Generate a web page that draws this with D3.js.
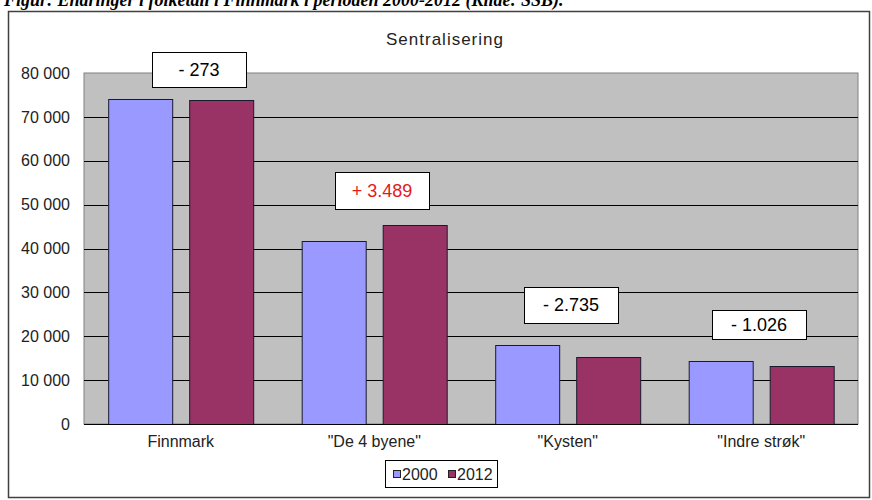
<!DOCTYPE html>
<html>
<head>
<meta charset="utf-8">
<script src="https://cdn.jsdelivr.net/npm/d3@7"></script>
<style>
  body { margin: 0; background: #fff; }
  text { font-family: "Liberation Sans", Arial, sans-serif; }
</style>
</head>
<body>
<svg id="chart" width="872" height="500"></svg>
<script>

// Data
const categories = [ "Finnmark", "\"De 4 byene\"", "\"Kysten\"", "\"Indre strøk\"" ];
const years = [ "2000", "2012" ];
const pop2000 = [ 74061, 41780, 17900, 14330 ];
const pop2012 = [ 73788, 45269, 15165, 13304 ];
const changeLabels = [ "- 273", "+ 3.489", "- 2.735", "- 1.026" ];
const yTicks = [ 0, 10000, 20000, 30000, 40000, 50000, 60000, 70000, 80000 ];

const width = 872,
      height = 500;

const plot = { left: 84, right: 858, top: 73, bottom: 424 };

const colors = { "2000" : "#9999ff", "2012" : "#993366" };

const svg = d3.select( "#chart" );

const nb = d3.formatLocale( { decimal: ",", thousands: " ", grouping: [ 3 ], currency: [ "", "" ] } );

const rows = categories.map( ( c, i ) => ( {
  cat : c,
  values : [ { year : "2000", value : pop2000[ i ] }, { year : "2012", value : pop2012[ i ] } ],
  note : changeLabels[ i ]
} ) );

const x0 = d3.scaleBand()
  .domain( categories )
  .range( [ plot.left, plot.right ] )
  .paddingInner( 0.25 )
  .paddingOuter( 0.125 );

const x1 = d3.scaleBand()
  .domain( years )
  .range( [ 0, x0.bandwidth() ] )
  .paddingInner( 0.21 );

const y = d3.scaleLinear()
  .domain( [ 0, 80000 ] )
  .range( [ plot.bottom, plot.top ] );

// Caption above the chart (cut by the top of the picture, as in the original)
svg.append( "text" )
  .attr( "x", 4 )
  .attr( "y", 6 )
  .style( "font-family", "'Liberation Serif', 'Times New Roman', serif" )
  .style( "font-style", "italic" )
  .style( "font-weight", "bold" )
  .style( "font-size", "18px" )
  .attr( "fill", "#000" )
  .text( "Figur: Endringer i folketall i Finnmark i perioden 2000-2012 (Kilde: SSB)." );

// Chart frame
svg.append( "rect" )
  .attr( "x", 8.5 )
  .attr( "y", 11.5 )
  .attr( "width", 861 )
  .attr( "height", 486 )
  .attr( "fill", "#fff" )
  .attr( "stroke", "#404040" )
  .attr( "stroke-width", 1.5 );

svg.append( "text" )
  .attr( "x", 445 )
  .attr( "y", 45 )
  .attr( "text-anchor", "middle" )
  .style( "font-size", "17px" )
  .style( "letter-spacing", "1px" )
  .attr( "fill", "#222" )
  .text( "Sentralisering" );

// Plot area
svg.append( "rect" )
  .attr( "x", plot.left )
  .attr( "y", plot.top )
  .attr( "width", plot.right - plot.left )
  .attr( "height", plot.bottom - plot.top )
  .attr( "fill", "#c0c0c0" )
  .attr( "stroke", "#808080" )
  .attr( "stroke-width", 1 );

svg.append( "g" )
  .selectAll( "line" )
  .data( yTicks.filter( t => t > 0 && t < 80000 ) )
  .enter().append( "line" )
    .attr( "x1", plot.left )
    .attr( "x2", plot.right )
    .attr( "y1", d => Math.round( y( d ) ) + 0.5 )
    .attr( "y2", d => Math.round( y( d ) ) + 0.5 )
    .attr( "stroke", "#000" )
    .attr( "stroke-width", 1 );

// Y axis labels
const yAxis = svg.append( "g" )
  .attr( "transform", "translate(" + plot.left + ",0)" )
  .call( d3.axisLeft( y ).tickValues( yTicks ).tickSize( 0 ).tickPadding( 14 ).tickFormat( nb.format( "," ) ) );

yAxis.select( ".domain" ).remove();
yAxis.selectAll( "text" )
  .style( "font-family", "'Liberation Sans', Arial, sans-serif" )
  .style( "font-size", "16px" )
  .attr( "fill", "#222" );

// Bars
const groups = svg.append( "g" )
  .selectAll( "g" )
  .data( rows )
  .enter().append( "g" )
    .attr( "transform", d => "translate(" + x0( d.cat ) + ",0)" );

groups.selectAll( "rect" )
  .data( d => d.values )
  .enter().append( "rect" )
    .attr( "x", d => Math.round( x1( d.year ) ) + 0.5 )
    .attr( "y", d => Math.round( y( d.value ) ) + 0.5 )
    .attr( "width", Math.round( x1.bandwidth() ) )
    .attr( "height", d => plot.bottom - Math.round( y( d.value ) ) )
    .attr( "fill", d => colors[ d.year ] )
    .attr( "stroke", "#1a1a2e" )
    .attr( "stroke-width", 1 );

// X axis line
svg.append( "line" )
  .attr( "x1", plot.left )
  .attr( "x2", plot.right )
  .attr( "y1", plot.bottom + 0.5 )
  .attr( "y2", plot.bottom + 0.5 )
  .attr( "stroke", "#000" )
  .attr( "stroke-width", 1.2 );

const xAxis = svg.append( "g" )
  .attr( "transform", "translate(0," + plot.bottom + ")" )
  .call( d3.axisBottom( x0 ).tickSize( 0 ).tickPadding( 12 ) );

xAxis.select( ".domain" ).remove();
xAxis.selectAll( "text" )
  .style( "font-family", "'Liberation Sans', Arial, sans-serif" )
  .style( "font-size", "16px" )
  .attr( "fill", "#222" );

// Change boxes, placed above the taller bar of each group
const noteLayout = [
  { dx : 18, gap : 12, h : 35 },
  { dx : 8,  gap : 16, h : 37 },
  { dx : 3,  gap : 22, h : 36 },
  { dx : -2, gap : 22, h : 29 }
];
const noteW = 94;

const notes = svg.append( "g" )
  .selectAll( "g" )
  .data( rows )
  .enter().append( "g" )
    .attr( "transform", ( d, i ) => {
      const cx = x0( d.cat ) + x0.bandwidth() / 2 + noteLayout[ i ].dx;
      const bottom = y( d3.max( d.values, v => v.value ) ) - noteLayout[ i ].gap;
      return "translate(" + Math.round( cx ) + "," + Math.round( bottom - noteLayout[ i ].h ) + ")";
    } );

notes.append( "rect" )
  .attr( "x", -noteW / 2 + 0.5 )
  .attr( "y", 0.5 )
  .attr( "width", noteW )
  .attr( "height", ( d, i ) => noteLayout[ i ].h )
  .attr( "fill", "#fff" )
  .attr( "stroke", "#000" )
  .attr( "stroke-width", 1 );

notes.append( "text" )
  .attr( "x", 0 )
  .attr( "y", ( d, i ) => noteLayout[ i ].h / 2 )
  .attr( "dy", "0.36em" )
  .attr( "text-anchor", "middle" )
  .style( "font-size", "18px" )
  .attr( "fill", d => d.note.startsWith( "+" ) ? "#e41a1c" : "#000" )
  .text( d => d.note );

// Legend
const legend = svg.append( "g" )
  .attr( "transform", "translate(385,460)" );

legend.append( "rect" )
  .attr( "x", 0.5 )
  .attr( "y", 0.5 )
  .attr( "width", 112 )
  .attr( "height", 27 )
  .attr( "fill", "#fff" )
  .attr( "stroke", "#000" )
  .attr( "stroke-width", 1 );

const items = legend.selectAll( "g.item" )
  .data( years )
  .enter().append( "g" )
    .attr( "class", "item" )
    .attr( "transform", ( d, i ) => "translate(" + ( 8 + i * 55 ) + ",0)" );

items.append( "rect" )
  .attr( "x", 0.5 )
  .attr( "y", 10.5 )
  .attr( "width", 7 )
  .attr( "height", 7 )
  .attr( "fill", d => colors[ d ] )
  .attr( "stroke", "#222" )
  .attr( "stroke-width", 1 );

items.append( "text" )
  .attr( "x", 9 )
  .attr( "y", 14 )
  .attr( "dy", "0.36em" )
  .style( "font-size", "16px" )
  .attr( "fill", "#222" )
  .text( d => d );

</script>
</body>
</html>
